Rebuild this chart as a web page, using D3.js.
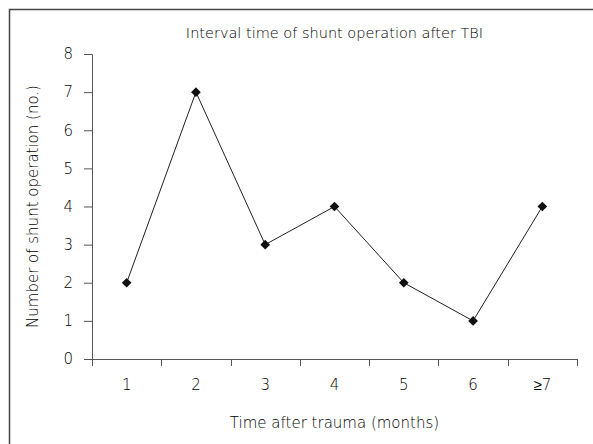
<!DOCTYPE html>
<html>
<head>
<meta charset="utf-8">
<script src="https://cdn.jsdelivr.net/npm/d3@7"></script>
<style>
  body { margin: 0; background: #fff; }
  text { font-family: "DejaVu Sans", sans-serif; font-weight: 200; fill: #000; }
</style>
</head>
<body>
<div id="chart"></div>
<script>
// data
var categories = ["1", "2", "3", "4", "5", "6", "\u22657"];
var counts = [2, 7, 3, 4, 2, 1, 4];
var yTicks = [0, 1, 2, 3, 4, 5, 6, 7, 8];

var W = 593, H = 444;
var margin = {left: 92, right: 16, top: 54, bottom: 85};
var width = W - margin.left - margin.right;
var height = H - margin.top - margin.bottom;

var svg = d3.select("#chart")
  .append("svg")
    .attr("width", W)
    .attr("height", H);

// frame on the left and top only
svg.append("path")
  .attr("d", "M9.5," + H + "V9.5H" + W)
  .attr("fill", "none")
  .attr("stroke", "#444")
  .attr("stroke-width", 1.5);

var g = svg.append("g")
  .attr("transform", "translate(" + margin.left + "," + margin.top + ")");

var x = d3.scaleBand().domain(categories).range([0, width]);
var y = d3.scaleLinear().domain([0, 8]).range([height, 0]);

// y axis
var yAxis = g.append("g")
  .call(d3.axisLeft(y).tickValues(yTicks).tickSize(8).tickPadding(11));
yAxis.selectAll("text").style("font-size", "15px").attr("fill", "#000");

// x axis with ticks between the categories
var xAxis = g.append("g")
  .attr("transform", "translate(0," + height + ")")
  .call(d3.axisBottom(x).tickSize(0).tickPadding(20));
xAxis.select(".domain").remove();
xAxis.selectAll("text").style("font-size", "15px").attr("fill", "#000");

g.append("line")
  .attr("x1", 0).attr("x2", width)
  .attr("y1", height + 0.5).attr("y2", height + 0.5)
  .attr("stroke", "#555");

var bounds = categories.map(function(c) { return x(c); }).concat([width]);
g.selectAll(".xtick")
  .data(bounds)
  .enter().append("line")
    .attr("class", "xtick")
    .attr("x1", function(d) { return Math.round(d) + 0.5; })
    .attr("x2", function(d) { return Math.round(d) + 0.5; })
    .attr("y1", height)
    .attr("y2", height + 7)
    .attr("stroke", "#555");

g.selectAll(".domain, .tick line").attr("stroke", "#555");

// line + diamonds
var pts = categories.map(function(c, i) { return {cat: c, value: counts[i]}; });

g.append("path")
  .datum(pts)
  .attr("fill", "none")
  .attr("stroke", "#222")
  .attr("stroke-width", 1)
  .attr("d", d3.line()
    .x(function(d) { return x(d.cat) + x.bandwidth() / 2; })
    .y(function(d) { return y(d.value); }));

g.selectAll(".dot")
  .data(pts)
  .enter().append("path")
    .attr("class", "dot")
    .attr("transform", function(d) {
      return "translate(" + (x(d.cat) + x.bandwidth() / 2) + "," + y(d.value) + ")";
    })
    .attr("d", d3.symbol().type(d3.symbolDiamond2).size(60))
    .attr("fill", "#111");

// titles
svg.append("text")
  .text("Interval time of shunt operation after TBI")
  .attr("x", margin.left + width / 2)
  .attr("y", 38)
  .attr("text-anchor", "middle")
  .style("font-size", "14.5px");

svg.append("text")
  .text("Time after trauma (months)")
  .attr("x", margin.left + width / 2)
  .attr("y", 428)
  .attr("text-anchor", "middle")
  .style("font-size", "15px");

svg.append("text")
  .text("Number of shunt operation (no.)")
  .attr("transform", "translate(38," + (margin.top + height / 2) + ") rotate(-90)")
  .attr("text-anchor", "middle")
  .style("font-size", "15px");
</script>
</body>
</html>
